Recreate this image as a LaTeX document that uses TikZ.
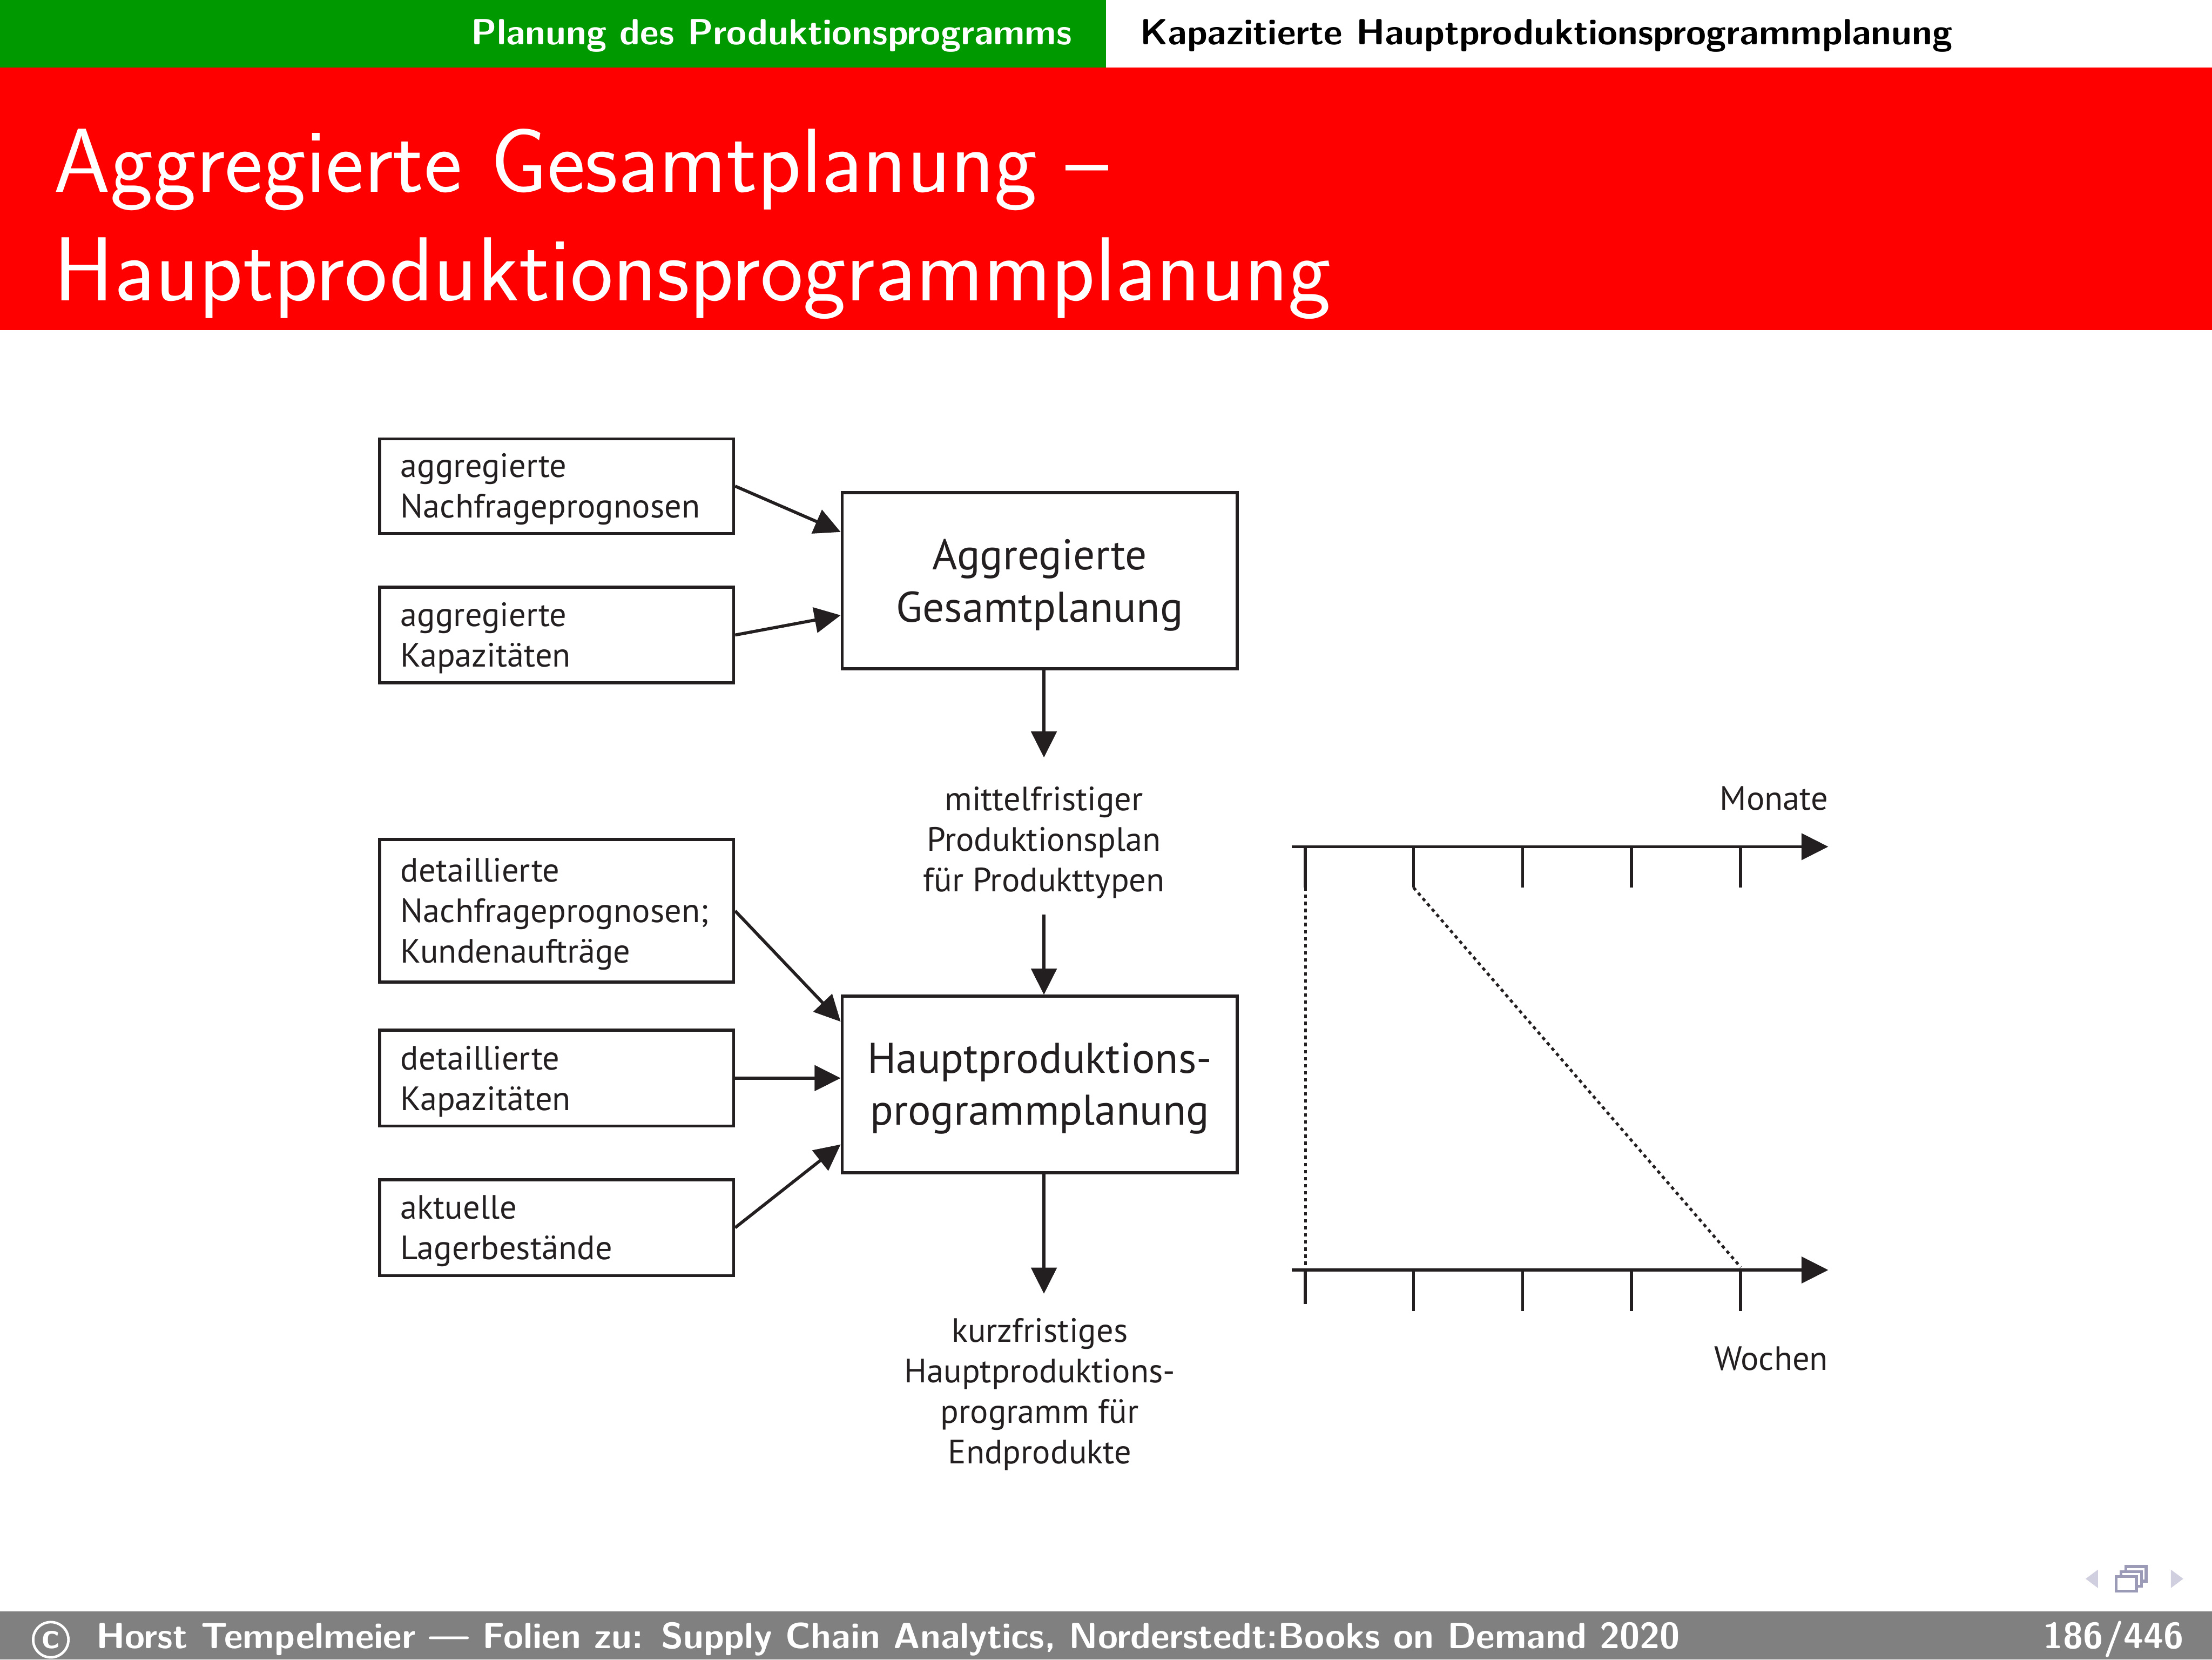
\documentclass[tikz,border=0pt]{standalone}
\usepackage{fontspec}
\newfontfamily\dfont{PT Sans}
\usetikzlibrary{arrows.meta}
\definecolor{hgreen}{HTML}{009900}
\definecolor{ink}{HTML}{231F20}
\definecolor{navlight}{HTML}{CFCFDF}
\definecolor{navdark}{HTML}{9B9BB7}
\definecolor{footgray}{HTML}{808080}
\newcommand\lift[1]{\rule{0pt}{#1}}
\begin{document}
\begin{tikzpicture}[x=1pt,y=-1pt,
  box/.style={draw=ink, line width=2.2pt, text=ink, font=\dfont\fontsize{23.9}{28.7}\selectfont,
    align=left, text width=221pt, inner xsep=15pt, inner ysep=0pt, minimum height=#1},
  bigbox/.style={draw=ink, line width=2.2pt, text=ink, font=\dfont\fontsize{30.4}{37}\selectfont,
    align=center, minimum width=280pt, minimum height=125pt, inner sep=0pt},
  plain/.style={text=ink, font=\dfont\fontsize{23.9}{28.7}\selectfont, align=center, inner sep=0pt},
  arr/.style={draw=ink, line width=2.2pt, -{Triangle[length=18.5pt,width=18pt]}},
  tick/.style={draw=ink, line width=2.2pt},
  dots/.style={draw=ink, line width=2pt, dash pattern=on 2.4pt off 2.6pt},
  hdr/.style={font=\sffamily\bfseries\fontsize{25.8}{30}\selectfont, inner sep=0pt},
  ttl/.style={text=white, font=\sffamily\fontsize{64.4}{77}\selectfont, inner sep=0pt, anchor=base west}
]
\useasboundingbox (0,0) rectangle (1568,1176);
% frame
\fill[hgreen] (0,0) rectangle (784,48);
\fill[red] (0,48) rectangle (1568,234);
\fill[footgray] (0,1142) rectangle (1568,1176);
\node[hdr, text=white, anchor=base east] (sec) at (760,31.5) {Planung des Produktionsprogramms};
\node[hdr, text=black, anchor=base west] (subsec) at (808,31.5) {Kapazitierte Hauptproduktionsprogrammplanung};
\node[ttl] (t1) at (38,136) {Aggregierte Gesamtplanung –};
\node[ttl] (t2) at (38,213) {Hauptproduktionsprogrammplanung};
\node[hdr, circle, draw=white, line width=1.8pt, minimum size=25pt, text=white] (copy) at (36,1162) {c};
\node[hdr, text=white, anchor=base west] (foot) at (68,1168) {Horst Tempelmeier — Folien zu: Supply Chain Analytics, Norderstedt:Books on Demand 2020};
\node[hdr, text=white, anchor=base east] (page) at (1548,1168) {186/446};
% navigation symbols
\fill[navlight] (1487.2,1112.3) -- (1487.2,1125.4) -- (1478.4,1118.8) -- cycle;
\fill[navlight] (1538.8,1112.3) -- (1538.8,1125.4) -- (1547.6,1118.8) -- cycle;
\draw[navdark, fill=white, line width=2pt] (1506.8,1110.1) rectangle (1521.3,1120.5);
\draw[navdark, fill=white, line width=2pt] (1503.5,1113.7) rectangle (1518.0,1124.1);
\draw[navdark, fill=white, line width=2pt] (1499.9,1117.2) rectangle (1514.4,1127.6);
% diagram boxes
\node[box=67pt] (b1) at (394.5,344.5) {\lift{21.5pt}aggregierte\\Nachfrageprognosen};
\node[box=68pt] (b2) at (394.5,450) {\lift{21.5pt}aggregierte\\Kapazitäten};
\node[box=101pt] (b3) at (394.5,645.5) {\lift{21.5pt}detaillierte\\Nachfrageprognosen;\\Kundenaufträge};
\node[box=68pt] (b4) at (394.5,764) {\lift{21.5pt}detaillierte\\Kapazitäten};
\node[box=68pt] (b5) at (394.5,870) {\lift{21.5pt}aktuelle\\Lagerbestände};
\node[bigbox] (g1) at (737,411.5) {\lift{28pt}Aggregierte\\Gesamtplanung};
\node[bigbox] (g2) at (737,768.5) {\lift{27pt}Hauptproduktions-\\programmplanung};
\node[plain, minimum height=111pt] (m1) at (740,592.5) {\lift{26pt}mittelfristiger\\Produktionsplan\\für Produkttypen};
\node[plain, minimum height=142pt] (m2) at (737,988) {kurzfristiges\\Hauptproduktions-\\programm für\\Endprodukte};
% connectors
\draw[arr] (b1.east) -- ([yshift=34.5pt]g1.west);
\draw[arr] (b2.east) -- ([yshift=-24.5pt]g1.west);
\draw[arr] ([xshift=3pt]g1.south) -- (m1.north);
\draw[arr] (m1.south) -- ([xshift=3pt]g2.north);
\draw[arr] (b3.east) -- ([yshift=44.5pt]g2.west);
\draw[arr] (b4.east) -- ([yshift=4.5pt]g2.west);
\draw[arr] (b5.east) -- ([yshift=-42.5pt]g2.west);
\draw[arr] ([xshift=3pt]g2.south) -- ([xshift=3pt]m2.north);
% time axes
\coordinate (a0) at (915.5,600);
\coordinate (a1) at (1296,600);
\coordinate (w0) at (915.5,900);
\coordinate (w1) at (1296,900);
\draw[arr, -{Triangle[length=19pt,width=18.6pt]}] (a0) -- (a1);
\draw[arr, -{Triangle[length=19pt,width=18.6pt]}] (w0) -- (w1);
\foreach \i/\x in {1/925.3,2/1002,3/1079.3,4/1156.6,5/1233.9} {
  \coordinate (mt\i) at (\x,600);
  \coordinate (mb\i) at (\x,629);
  \coordinate (wt\i) at (\x,900);
  \draw[tick] (mt\i) -- (mb\i);
}
\foreach \i/\x in {2/1002,3/1079.3,4/1156.6,5/1233.9} {
  \coordinate (wb\i) at (\x,929);
  \draw[tick] (wt\i) -- (wb\i);
}
\coordinate (wb1) at (925.3,924);
\draw[tick] (wt1) -- (wb1);
\coordinate (d1) at (925.3,898);
\coordinate (d2) at (1233.9,898);
\draw[dots] (mb1) -- (d1);
\draw[dots] (mb2) -- (d2);
\node[plain, anchor=base east] (mon) at (1296,574) {Monate};
\node[plain, anchor=base east] (woc) at (1296,971) {Wochen};
\end{tikzpicture}
\end{document}
